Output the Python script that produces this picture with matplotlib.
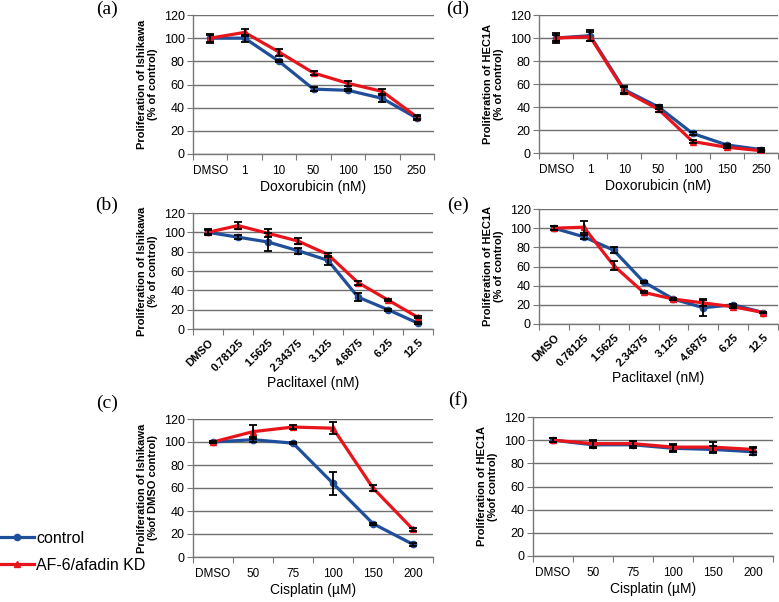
import numpy as np
import matplotlib
matplotlib.use("Agg")
import matplotlib.pyplot as plt
from matplotlib.lines import Line2D

plt.rcParams['font.family'] = ['Liberation Sans', 'DejaVu Sans']

# ---- data ----
dox_labels = ['DMSO', '1', '10', '50', '100', '150', '250']
pac_labels = ['DMSO', '0.78125', '1.5625', '2.34375', '3.125', '4.6875', '6.25', '12.5']
cis_labels = ['DMSO', '50', '75', '100', '150', '200']

a_ctrl = [100, 100, 80, 56, 55, 48, 31]
a_ctrl_err = [3, 3, 1, 2, 1, 3, 2]
a_kd = [100, 105, 88, 70, 61, 54, 32]
a_kd_err = [4, 3, 3, 2, 2, 2, 2]

d_ctrl = [100, 102, 55, 40, 17, 7, 3]
d_ctrl_err = [4, 5, 3, 2, 1, 1, 1]
d_kd = [100, 101, 54, 38, 10, 5, 2]
d_kd_err = [3, 4, 3, 2, 1, 1, 1]

b_ctrl = [100, 95, 90, 81, 71, 33, 20, 6]
b_ctrl_err = [3, 2, 9, 3, 5, 4, 1, 1]
b_kd = [100, 107, 99, 91, 77, 48, 30, 12]
b_kd_err = [2, 4, 4, 3, 2, 2, 1, 1]

e_ctrl = [100, 91, 77, 44, 26, 17, 20, 12]
e_ctrl_err = [2, 2, 3, 1, 1, 9, 1, 1]
e_kd = [100, 101, 61, 33, 26, 22, 18, 12]
e_kd_err = [2, 6, 5, 1, 1, 3, 1, 1]

c_ctrl = [100, 102, 99, 64, 29, 11]
c_ctrl_err = [1, 2, 1, 10, 1, 1]
c_kd = [100, 109, 113, 112, 60, 24]
c_kd_err = [1, 6, 2, 5, 3, 1]

f_ctrl = [100, 96, 96, 93, 92, 90]
f_ctrl_err = [2, 3, 3, 3, 3, 3]
f_kd = [100, 97, 97, 94, 94, 92]
f_kd_err = [2, 3, 2, 3, 4, 2]

BLUE = '#1f4e9a'
RED = '#e8141c'
W, H = 779, 602

fig = plt.figure(figsize=(W / 100, H / 100), dpi=100)


def panel(box, labels, ctrl, ctrl_err, kd, kd_err, ylabel, xlabel, rotate=False):
    l, r, t, b = box
    ax = fig.add_axes([l / W, (H - b) / H, (r - l) / W, (b - t) / H])
    n = len(labels)
    x = np.arange(n)
    ax.set_xlim(-0.5, n - 0.5)
    ax.set_ylim(0, 120)
    ax.set_yticks(np.arange(0, 121, 20))
    ax.yaxis.grid(True, color='#6f6f6f', lw=1.0)
    ax.set_axisbelow(True)
    for s in ['top', 'right']:
        ax.spines[s].set_visible(False)
    for s in ['left', 'bottom']:
        ax.spines[s].set_color('#777777')
        ax.spines[s].set_linewidth(1.0)
    ax.set_xticks(np.arange(-0.5, n, 1.0))
    ax.set_xticklabels([])
    ax.set_xticks(x, minor=True)
    ax.tick_params(axis='x', which='major', direction='out', length=4, color='#777777')
    ax.tick_params(axis='y', direction='out', length=4, color='#777777', labelsize=9, pad=2)
    if rotate:
        ax.set_xticklabels(labels, minor=True, rotation=45, ha='right',
                           rotation_mode='anchor', fontsize=8, fontweight='bold')
        ax.tick_params(axis='x', which='minor', length=0, pad=6)
    else:
        ax.set_xticklabels(labels, minor=True, fontsize=8.5)
        ax.tick_params(axis='x', which='minor', length=0, pad=8)
    ax.plot(x, ctrl, color=BLUE, lw=2.3, marker='o', ms=4.5, zorder=3)
    ax.plot(x, kd, color=RED, lw=2.3, marker='^', ms=5, zorder=4)
    ax.errorbar(x, ctrl, yerr=ctrl_err, fmt='none', ecolor='black', elinewidth=1.3,
                capsize=3, capthick=1.3, zorder=5)
    ax.errorbar(x, kd, yerr=kd_err, fmt='none', ecolor='black', elinewidth=1.3,
                capsize=3, capthick=1.3, zorder=5)
    ax.set_ylabel(ylabel, fontsize=8, fontweight='bold', linespacing=1.2, labelpad=4)
    ax.set_xlabel(xlabel, fontsize=10, labelpad=2)
    return ax


panel((193, 434, 15, 154), dox_labels, a_ctrl, a_ctrl_err, a_kd, a_kd_err,
      'Proliferation of Ishikawa\n(% of control)', 'Doxorubicin (nM)')
panel((539, 778, 15, 153), dox_labels, d_ctrl, d_ctrl_err, d_kd, d_kd_err,
      'Proliferation of HEC1A\n(% of control)', 'Doxorubicin (nM)')
panel((193, 433, 213, 329), pac_labels, b_ctrl, b_ctrl_err, b_kd, b_kd_err,
      'Proliferation of Ishikawa\n(% of control)', 'Paclitaxel (nM)', rotate=True)
panel((539, 778, 209, 324), pac_labels, e_ctrl, e_ctrl_err, e_kd, e_kd_err,
      'Proliferation of HEC1A\n(% of control)', 'Paclitaxel (nM)', rotate=True)
panel((193, 433, 419, 557), cis_labels, c_ctrl, c_ctrl_err, c_kd, c_kd_err,
      'Proliferation of Ishikawa\n(%of DMSO control)', 'Cisplatin (\u00b5M)')
panel((533, 773, 417, 556), cis_labels, f_ctrl, f_ctrl_err, f_kd, f_kd_err,
      'Proliferation of HEC1A\n(%of control)', 'Cisplatin (\u00b5M)')

# panel letters
for lab, px, py in [('(a)', 107, 9), ('(b)', 107, 205), ('(c)', 107, 403),
                    ('(d)', 458, 9), ('(e)', 458, 205), ('(f)', 458, 400)]:
    fig.text(px / W, 1 - py / H, lab, ha='center', va='center', fontsize=14,
             family='Liberation Serif')

handles = [Line2D([], [], color=BLUE, lw=2.3, marker='o', ms=4.5),
           Line2D([], [], color=RED, lw=2.3, marker='^', ms=5)]
fig.legend(handles, ['control', 'AF-6/afadin KD'], loc='upper left',
           bbox_to_anchor=(0.0, 1 - 531 / H), frameon=False, fontsize=11.5,
           handlelength=2.1, handletextpad=0.15, borderpad=0, borderaxespad=0,
           labelspacing=0.75)

fig.savefig('out.png', dpi=100)
